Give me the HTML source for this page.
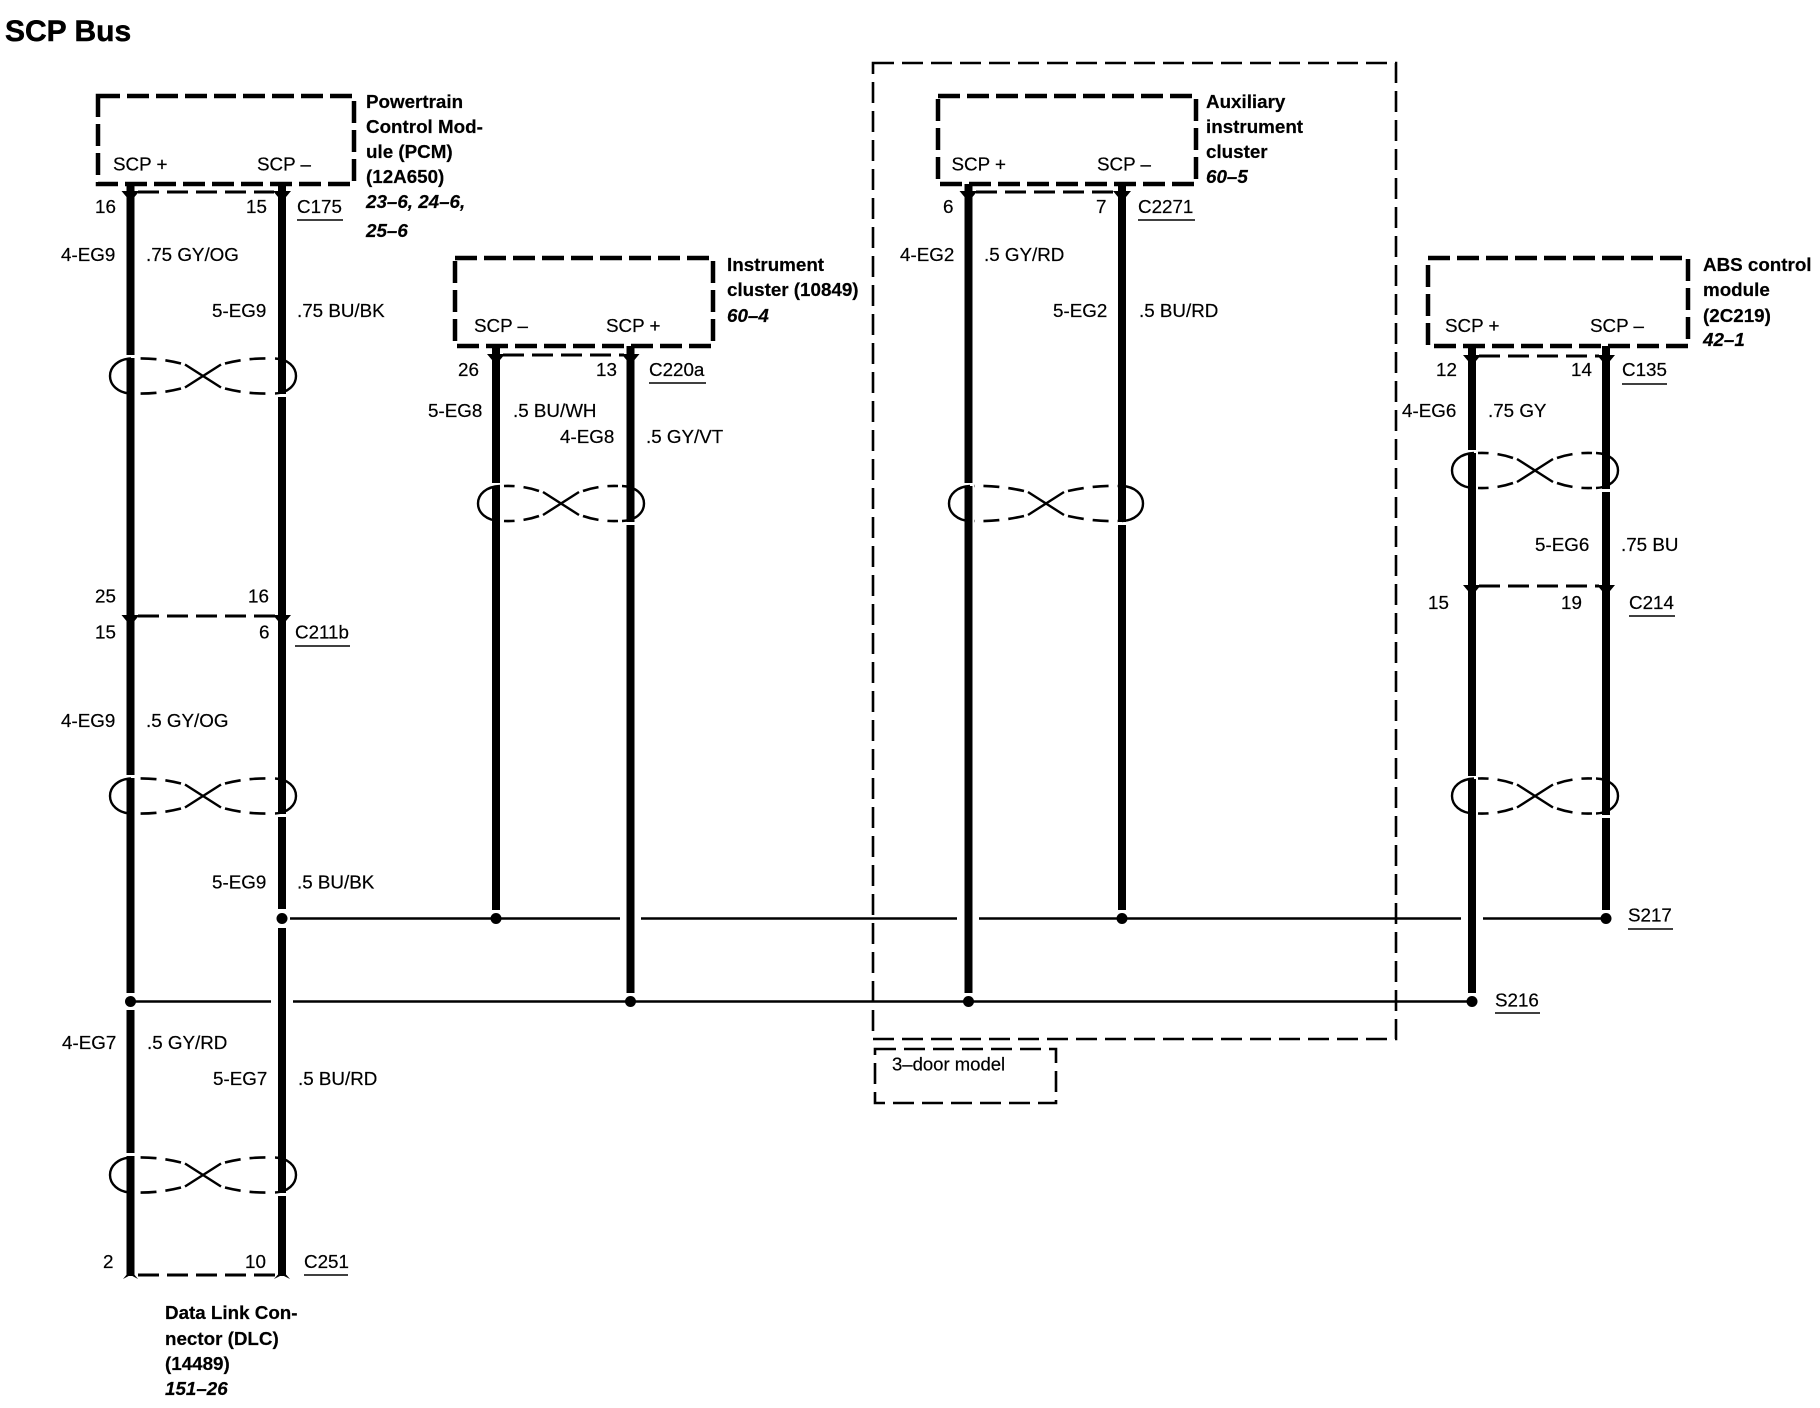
<!DOCTYPE html>
<html><head><meta charset="utf-8"><style>
html,body{margin:0;padding:0;background:#fff}
svg{display:block}
text{font-family:"Liberation Sans",sans-serif;font-size:18.8px;fill:#000;stroke:#000;stroke-width:.2}
.b{font-weight:bold;font-size:18.8px}
.i{font-weight:bold;font-style:italic;font-size:18.8px}
.box{fill:none;stroke:#000;stroke-width:4.5;stroke-dasharray:22 7}
.thin{fill:none;stroke:#000;stroke-width:2.6;stroke-dasharray:21 8}
.con{fill:none;stroke:#000;stroke-width:3;stroke-dasharray:21 8}
.w{stroke:#000;stroke-width:8;fill:none}
.h{stroke:#000;stroke-width:2.6;fill:none}
.u{stroke:#000;stroke-width:1.6}
.ts{fill:none;stroke:#000;stroke-width:2.4}
.td{fill:none;stroke:#000;stroke-width:2.6;stroke-dasharray:16 9}
</style></head><body>
<svg width="1820" height="1408" viewBox="0 0 1820 1408" xmlns="http://www.w3.org/2000/svg">
<rect width="1820" height="1408" fill="#fff"/>
<defs>
<g id="x"><path class="ts" d="M-18,-11.5 L18,11.5 M-18,11.5 L18,-11.5"/></g>
<g id="t93">
<use href="#x"/>
<path id="q93" class="td" d="M-22,-12.5 C-36,-16 -50,-18 -68,-17.5"/>
<use href="#q93" transform="scale(-1,1)"/><use href="#q93" transform="scale(1,-1)"/><use href="#q93" transform="scale(-1,-1)"/>
<path class="ts" d="M-72,-17.5 C-85,-17 -93,-9 -93,0 C-93,9 -85,17 -72,17.5"/>
<path class="ts" d="M72,-17.5 C85,-17 93,-9 93,0 C93,9 85,17 72,17.5"/>
</g>
<g id="t83">
<use href="#x"/>
<path id="q83" class="td" d="M-22,-12.5 C-32,-16 -44,-18 -57,-17.5"/>
<use href="#q83" transform="scale(-1,1)"/><use href="#q83" transform="scale(1,-1)"/><use href="#q83" transform="scale(-1,-1)"/>
<path class="ts" d="M-61,-17.5 C-75,-17 -83,-9 -83,0 C-83,9 -75,17 -61,17.5"/>
<path class="ts" d="M61,-17.5 C75,-17 83,-9 83,0 C83,9 75,17 61,17.5"/>
</g>
<g id="t97">
<use href="#x"/>
<path id="q97" class="td" d="M-22,-12.5 C-38,-16 -54,-18 -72,-17.5"/>
<use href="#q97" transform="scale(-1,1)"/><use href="#q97" transform="scale(1,-1)"/><use href="#q97" transform="scale(-1,-1)"/>
<path class="ts" d="M-76,-17.5 C-89,-17 -97,-9 -97,0 C-97,9 -89,17 -76,17.5"/>
<path class="ts" d="M76,-17.5 C89,-17 97,-9 97,0 C97,9 89,17 76,17.5"/>
</g>
<path id="a" d="M-9,-1 L9,-1 L4,5 L4,9 L-4,9 L-4,5 Z" fill="#000"/>
</defs>

<text x="5" y="41" style="font-size:30px;font-weight:bold;stroke-width:.5">SCP Bus</text>

<!-- outer dashed -->
<rect class="thin" x="873" y="63" width="523" height="976"/>
<rect class="thin" x="875" y="1049" width="181" height="54"/>
<text x="892" y="1070.5" style="font-size:18.5px">3–door model</text>

<!-- horizontals -->
<path class="h" d="M290,918.5 H620 M641,918.5 H957 M979,918.5 H1461 M1483,918.5 H1606"/>
<path class="h" d="M130,1001.5 H271 M293,1001.5 H1472"/>

<!-- module boxes -->
<rect class="box" x="98" y="96" width="256" height="88"/>
<rect class="box" x="455" y="258" width="258" height="88"/>
<rect class="box" x="938" y="96" width="258" height="88"/>
<rect class="box" x="1428" y="258" width="260" height="88"/>

<!-- wires -->
<path class="w" d="M130.5,184 V993 M130.5,1010 V1276"/>
<path class="w" d="M282,184 V909 M282,928 V1276"/>
<path class="w" d="M496,346 V910"/>
<path class="w" d="M630.5,346 V993"/>
<path class="w" d="M968.5,184 V993"/>
<path class="w" d="M1122,184 V910"/>
<path class="w" d="M1472,346 V993"/>
<path class="w" d="M1606,346 V910"/>

<!-- white gaps -->
<g fill="#fff">
<rect x="125" y="355" width="12" height="3"/><rect x="125" y="775" width="12" height="3"/><rect x="125" y="1153" width="12" height="3"/>
<rect x="276" y="394" width="12" height="3"/><rect x="276" y="814" width="12" height="3"/><rect x="276" y="1193" width="12" height="3"/>
<rect x="490" y="483" width="12" height="3"/><rect x="625" y="522" width="12" height="3"/>
<rect x="962" y="483" width="12" height="3"/><rect x="1116" y="522" width="12" height="3"/>
<rect x="1466" y="450" width="12" height="3"/><rect x="1600" y="489" width="12" height="3"/>
<rect x="1466" y="776" width="12" height="3"/><rect x="1600" y="815" width="12" height="3"/>
</g>

<!-- dots -->
<g fill="#000">
<circle cx="282" cy="918.5" r="5.5"/><circle cx="496" cy="918.5" r="5.5"/><circle cx="1122" cy="918.5" r="5.5"/><circle cx="1606" cy="918.5" r="5.5"/>
<circle cx="130.5" cy="1001.5" r="5.5"/><circle cx="630.5" cy="1001.5" r="5.5"/><circle cx="968.5" cy="1001.5" r="5.5"/><circle cx="1472" cy="1001.5" r="5.5"/>
</g>

<!-- connector dashes -->
<path class="con" d="M138,192 H274"/>
<path class="con" d="M503,355 H624"/>
<path class="con" d="M976,192 H1115"/>
<path class="con" d="M1479,356 H1599"/>
<path class="con" d="M138,616 H275"/>
<path class="con" d="M1479,586 H1599"/>
<path class="con" d="M138,1275 H275"/>

<!-- arrowheads -->
<use href="#a" x="130.5" y="192"/><use href="#a" x="282" y="192"/>
<use href="#a" x="496" y="355"/><use href="#a" x="630.5" y="355"/>
<use href="#a" x="968.5" y="192"/><use href="#a" x="1122" y="192"/>
<use href="#a" x="1472" y="356"/><use href="#a" x="1606" y="356"/>
<use href="#a" x="130.5" y="616"/><use href="#a" x="282" y="616"/>
<use href="#a" x="1472" y="586"/><use href="#a" x="1606" y="586"/>
<path d="M123,1279 L130.5,1270 L138,1279 L130.5,1275 Z M274,1279 L282,1270 L290,1279 L282,1275 Z" fill="#000"/>

<!-- twists -->
<use href="#t93" x="203" y="376"/>
<use href="#t93" x="203" y="796"/>
<use href="#t93" x="203" y="1175"/>
<use href="#t83" x="561" y="503.5"/>
<use href="#t97" x="1046" y="503.5"/>
<use href="#t83" x="1535" y="470.5"/>
<use href="#t83" x="1535" y="796"/>

<!-- PCM -->
<text x="113" y="170.5">SCP +</text><text x="257" y="170.5">SCP –</text>
<text class="b" x="366" y="108">Powertrain</text>
<text class="b" x="366" y="133">Control Mod-</text>
<text class="b" x="366" y="158">ule (PCM)</text>
<text class="b" x="366" y="183">(12A650)</text>
<text class="i" x="366" y="208">23–6, 24–6,</text>
<text class="i" x="366" y="237">25–6</text>
<text x="95" y="213">16</text><text x="246" y="213">15</text>
<text x="297" y="213">C175</text><line class="u" x1="297" x2="343" y1="220" y2="220"/>
<text x="61" y="261">4-EG9</text><text x="146" y="261">.75 GY/OG</text>
<text x="212" y="317">5-EG9</text><text x="297" y="317">.75 BU/BK</text>

<!-- C211b -->
<text x="95" y="602.5">25</text><text x="248" y="602.5">16</text>
<text x="95" y="638.5">15</text><text x="259" y="638.5">6</text>
<text x="295" y="638.5">C211b</text><line class="u" x1="295" x2="350" y1="646" y2="646"/>
<text x="61" y="727">4-EG9</text><text x="146" y="727">.5 GY/OG</text>
<text x="212" y="888.5">5-EG9</text><text x="297" y="888.5">.5 BU/BK</text>
<text x="62" y="1049">4-EG7</text><text x="147" y="1049">.5 GY/RD</text>
<text x="213" y="1085">5-EG7</text><text x="298" y="1085">.5 BU/RD</text>
<text x="103" y="1268">2</text><text x="245" y="1268">10</text>
<text x="304" y="1268">C251</text><line class="u" x1="304" x2="348" y1="1275" y2="1275"/>
<text class="b" x="165" y="1319">Data Link Con-</text>
<text class="b" x="165" y="1345">nector (DLC)</text>
<text class="b" x="165" y="1370">(14489)</text>
<text class="i" x="165" y="1395">151–26</text>

<!-- Instrument cluster -->
<text x="474" y="332">SCP –</text><text x="606" y="332">SCP +</text>
<text x="458" y="376">26</text><text x="596" y="376">13</text>
<text x="649" y="376">C220a</text><line class="u" x1="649" x2="706" y1="383" y2="383"/>
<text x="428" y="417">5-EG8</text><text x="513" y="417">.5 BU/WH</text>
<text x="560" y="443">4-EG8</text><text x="646" y="443">.5 GY/VT</text>
<text class="b" x="727" y="271">Instrument</text>
<text class="b" x="727" y="296">cluster (10849)</text>
<text class="i" x="727" y="322">60–4</text>

<!-- Aux -->
<text x="951.5" y="170.5">SCP +</text><text x="1097" y="170.5">SCP –</text>
<text x="943" y="213">6</text><text x="1096" y="213">7</text>
<text x="1138" y="213">C2271</text><line class="u" x1="1138" x2="1195" y1="220" y2="220"/>
<text x="900" y="261">4-EG2</text><text x="984" y="261">.5 GY/RD</text>
<text x="1053" y="317">5-EG2</text><text x="1139" y="317">.5 BU/RD</text>
<text class="b" x="1206" y="108">Auxiliary</text>
<text class="b" x="1206" y="133">instrument</text>
<text class="b" x="1206" y="158">cluster</text>
<text class="i" x="1206" y="183">60–5</text>

<!-- ABS -->
<text x="1445" y="332">SCP +</text><text x="1590" y="332">SCP –</text>
<text x="1436" y="376">12</text><text x="1571" y="376">14</text>
<text x="1622" y="376">C135</text><line class="u" x1="1622" x2="1667" y1="384" y2="384"/>
<text x="1402" y="417">4-EG6</text><text x="1488" y="417">.75 GY</text>
<text x="1535" y="551">5-EG6</text><text x="1621" y="551">.75 BU</text>
<text x="1428" y="609">15</text><text x="1561" y="609">19</text>
<text x="1629" y="609">C214</text><line class="u" x1="1629" x2="1675" y1="616" y2="616"/>
<text class="b" x="1703" y="271">ABS control</text>
<text class="b" x="1703" y="296">module</text>
<text class="b" x="1703" y="322">(2C219)</text>
<text class="i" x="1703" y="346">42–1</text>

<text x="1628" y="921.5">S217</text><line class="u" x1="1628" x2="1673" y1="929" y2="929"/>
<text x="1495" y="1006.5">S216</text><line class="u" x1="1495" x2="1540" y1="1013" y2="1013"/>
</svg>
</body></html>
